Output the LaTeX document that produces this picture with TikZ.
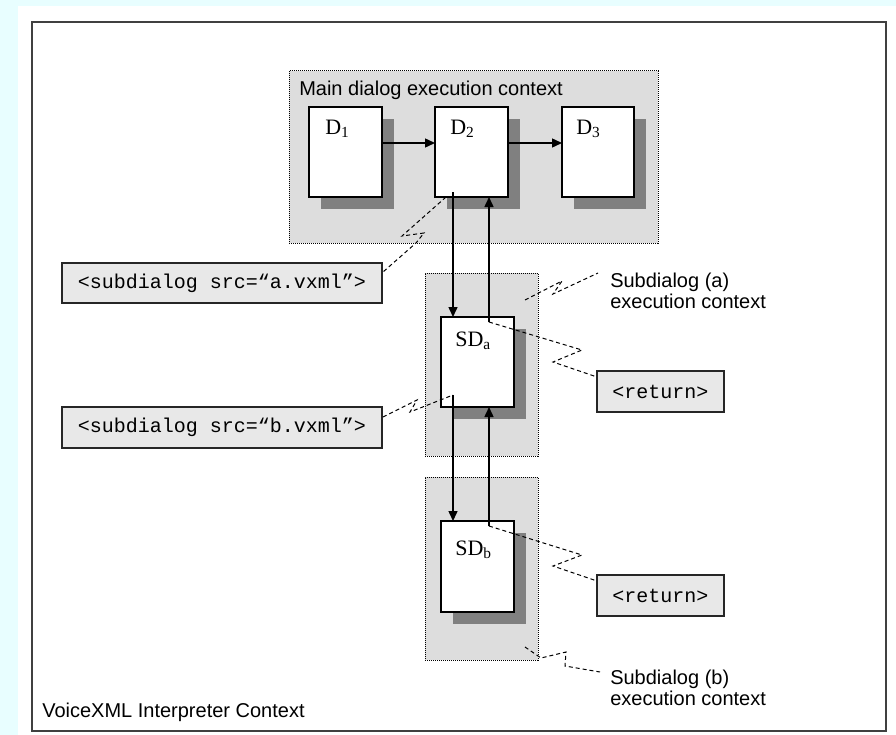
\documentclass[tikz,border=0pt]{standalone}
\usepackage{fontspec}
\setmainfont{Liberation Sans}
\newfontfamily\serifD{Liberation Serif}
\newfontfamily\monoF{Liberation Mono}
\usetikzlibrary{arrows.meta,fit,shadows,calc}
\definecolor{bgcyan}{RGB}{232,254,255}
\definecolor{ctxfill}{RGB}{221,221,221}
\definecolor{shadowgray}{RGB}{128,128,128}
\definecolor{codefill}{RGB}{232,232,232}
\definecolor{framegray}{RGB}{64,64,64}
\begin{document}
\begin{tikzpicture}[x=0.75pt,y=-0.75pt,
  ctx/.style={draw=black, fill=ctxfill, line width=0.75pt, dash pattern=on 0.75pt off 0.75pt, inner sep=0pt, outer sep=0pt},
  dbox/.style={draw=black, fill=white, line width=1.1pt, inner sep=0pt, outer sep=0pt,
    drop shadow={shadow xshift=9pt, shadow yshift=-9pt, fill=shadowgray, opacity=1}},
  codebox/.style={draw=black!85, fill=codefill, line width=1.1pt, inner sep=0pt, outer sep=0pt,
    font=\monoF\fontsize{15}{18}\selectfont},
  dlbl/.style={font=\serifD\fontsize{16.5}{18}\selectfont, inner sep=0pt, anchor=base west},
  lbl/.style={font=\fontsize{15}{15.75}\selectfont, inner sep=0pt, anchor=base west, align=left},
  arr/.style={line width=1.1pt, -{Triangle[length=7.5pt,width=6.75pt]}},
  conn/.style={line width=0.75pt, dash pattern=on 3pt off 2.25pt},
]
\useasboundingbox (0,0) rectangle (896,735);
\fill[bgcyan] (0,0) rectangle (896,735);
\fill[white] (18,6) rectangle (896,735);

% outer frame
\node[draw=framegray, line width=1.5pt, inner sep=0pt, fit={(32,22)(886,731)}] (frame) {};

% contexts
\node[ctx, fit={(289,71)(658,243)}] (ctxM) {};
\node[ctx, fit={(425,273)(538,456)}] (ctxA) {};
\node[ctx, fit={(425,477)(538,660)}] (ctxB) {};

% dialog boxes
\node[dbox, fit={(309,107)(382,197)}] (D1) {};
\node[dbox, fit={(435,107)(508,197)}] (D2) {};
\node[dbox, fit={(562,107)(634,197)}] (D3) {};
\node[dbox, fit={(441,317)(514,407)}] (SDa) {};
\node[dbox, fit={(441,521)(514,612)}] (SDb) {};

\node[dlbl] (l1) at ([shift={(16,27)}]D1.north west) {D\textsubscript{1}};
\node[dlbl] (l2) at ([shift={(15,27)}]D2.north west) {D\textsubscript{2}};
\node[dlbl] (l3) at ([shift={(14,27)}]D3.north west) {D\textsubscript{3}};
\node[dlbl] (la) at ([shift={(14,29)}]SDa.north west) {SD\textsubscript{a}};
\node[dlbl] (lb) at ([shift={(14,34)}]SDb.north west) {SD\textsubscript{b}};

% code boxes
\node[codebox, minimum width=240pt, minimum height=30pt] (codeA) at (222,283) {<subdialog src=“a.vxml”>};
\node[codebox, minimum width=240pt, minimum height=30.75pt] (codeB) at (222,427.5) {<subdialog src=“b.vxml”>};
\node[codebox, minimum width=95.25pt, minimum height=30.75pt] (retA) at (660.5,391.5) {<return>};
\node[codebox, minimum width=95.25pt, minimum height=30.75pt] (retB) at (660.5,595.5) {<return>};

% arrows
\draw[arr] ([yshift=6.75pt]D1.east) -- ([yshift=6.75pt]D2.west);
\draw[arr] ([yshift=6.75pt]D2.east) -- ([yshift=6.75pt]D3.west);

\coordinate (dA) at ([shift={(18,-5)}]D2.south west);
\coordinate (uA) at ([shift={(48,5)}]SDa.north west);
\coordinate (dB) at ([shift={(12,-12)}]SDa.south west);
\coordinate (uB) at ([shift={(48,5)}]SDb.north west);
\draw[arr] (dA) -- (SDa.north -| dA);
\draw[arr] (uA) -- (D2.south -| uA);
\draw[arr] (dB) -- (SDb.north -| dB);
\draw[arr] (uB) -- (SDa.south -| uB);

% dashed break connectors
\coordinate (tA) at (598,273);
\coordinate (tB) at (600,672);
\draw[conn] ([shift={(11,0)}]D2.south west) -- (402,236) -- (424,233) -- (416,243) -- ([shift={(1,9)}]codeA.north east);
\draw[conn] ([shift={(1,10)}]codeB.north east) -- (417,400) -- (410,412) -- (dB);
\draw[conn] (uA) -- (582,350) -- (553,362) -- ([shift={(0,6)}]retA.north west);
\draw[conn] (uB) -- (582,555) -- (553,566) -- ([shift={(0,6)}]retB.north west);
\draw[conn] ([shift={(-13,27)}]ctxA.north east) -- (562,281) -- (553,294) -- (tA);
\draw[conn] ([shift={(-13,-13)}]ctxB.south east) -- (541,658) -- (566,652) -- (565,666) -- (tB);

% labels
\node[lbl] (title) at (299,95) {Main dialog execution context};
\node[lbl] (labA) at (610,308) {Subdialog (a)\\execution context};
\node[lbl] (labB) at (610,705) {Subdialog (b)\\execution context};
\node[lbl] (vx) at (42,717) {VoiceXML Interpreter Context};
\end{tikzpicture}
\end{document}
